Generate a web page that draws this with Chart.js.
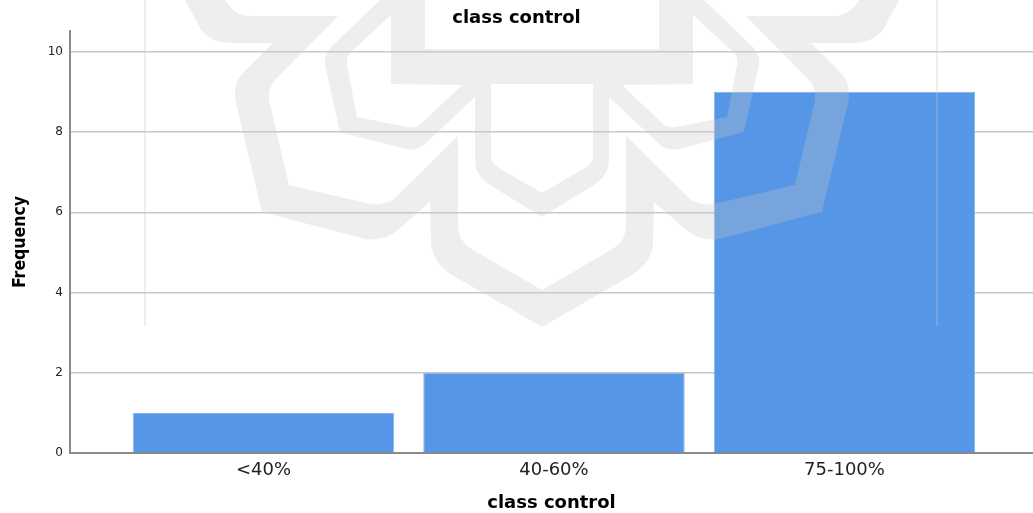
<!DOCTYPE html>
<html><head><meta charset="utf-8">
<script src="https://cdn.jsdelivr.net/npm/chart.js@4"></script>
<style>html,body{margin:0;padding:0;background:#fff}#w{width:1033px;height:513px}</style>
</head><body><div id="w"><canvas id="c" width="1033" height="513"></canvas></div>
<script>
const categories = ['<40%', '40-60%', '75-100%'];
const frequencies = [1, 2, 9];
const yTicks = [0, 2, 4, 6, 8, 10];
const chartTitle = 'class control';
const xTitle = 'class control';
const yTitle = 'Frequency';

// Background watermark: decoration only, not data
const CX = 542;
const bandA = [['M',185,0],['L',200,28],['Q',210,43,232,43],['L',273,43],['L',243,73],['Q',232,85,236,103],['L',262,212],['L',365,239],['Q',385,242,400,228],['L',430,202],['L',431,243],['Q',432,262,452,275],['L',CX,327],['L',CX,290],['L',470,248],['Q',458,240,458,225],['L',458,136],['L',395,198],['Q',385,206,370,204],['L',289,185],['L',269,100],['Q',268,88,275,80],['L',338,16],['L',250,16],['Q',235,16,225,0],['Z']];
const bandB = [['M',425,0],['L',425,49],['L',CX,49],['L',CX,84],['L',491,84],['L',491,155],['Q',491,163,499,168],['L',CX,193],['L',CX,217],['L',490,185],['Q',475,175,475,160],['L',475,97],['L',427,142],['Q',417,152,405,149],['L',340,132],['L',325,65],['Q',324,55,330,48],['L',380,0],['Z'],
 ['M',391,15],['L',391,84],['L',462,85],['L',423,122],['Q',417,129,408,127],['L',357,117],['L',347,65],['Q',346,57,351,52],['Z']];
function trace(ctx, cmds, flip){
  const X = x => flip ? 2*CX - x : x;
  for (const c of cmds){
    if (c[0]==='M') ctx.moveTo(X(c[1]),c[2]);
    else if (c[0]==='L') ctx.lineTo(X(c[1]),c[2]);
    else if (c[0]==='Q') ctx.quadraticCurveTo(X(c[1]),c[2],X(c[3]),c[4]);
    else ctx.closePath();
  }
}
const watermark = {
  id:'watermark',
  afterDatasetsDraw(chart){
    const ctx = chart.ctx;
    ctx.save();
    ctx.fillStyle = 'rgba(200,200,200,0.3)';
    for (const flip of [false,true]){
      ctx.beginPath(); trace(ctx,bandA,flip); ctx.fill();
      ctx.beginPath(); trace(ctx,bandB,flip); ctx.fill('evenodd');
    }
    ctx.fillRect(144,0,2,326);
    ctx.fillRect(936,0,2,326);
    ctx.restore();
  }
};

new Chart(document.getElementById('c'), {
  type:'bar',
  data:{datasets:[{
    data: frequencies.map((v,i)=>({x:i,y:v})),
    backgroundColor:'#5596e6',
    borderColor:'#86b6f2',
    borderWidth:1,
    barPercentage:0.9,
    categoryPercentage:1
  }]},
  plugins:[watermark],
  options:{
    responsive:false, animation:false,
    layout:{padding:0},
    plugins:{
      legend:{display:false},
      tooltip:{enabled:false},
      title:{display:true,text:chartTitle,color:'#000',
        font:{family:'DejaVu Sans',size:18,weight:'bold',lineHeight:1.2},
        padding:{top:8,bottom:1.4}}
    },
    scales:{
      x:{type:'linear',offset:false,min:-0.666,max:2.649,
        afterBuildTicks(s){s.ticks=categories.map((_,i)=>({value:i}));},
        afterFit(s){s.height=60;},
        grid:{display:false,drawTicks:false},
        border:{color:'#8a8a8a',width:2},
        ticks:{autoSkip:false,maxRotation:0,padding:7,color:'#222',
          font:{family:'DejaVu Sans',size:18},
          callback:v=>categories[v]},
        title:{display:true,text:xTitle,color:'#000',
          font:{family:'DejaVu Sans',size:18,weight:'bold'},
          padding:{top:0,bottom:-1}}
      },
      y:{min:0,max:10.52,
        afterBuildTicks(s){s.ticks=yTicks.map(v=>({value:v}));},
        afterFit(s){s.width=70;},
        grid:{color:'#c9c9c9',lineWidth:1.5,drawTicks:false},
        border:{color:'#8a8a8a',width:2},
        ticks:{padding:7,color:'#222',font:{family:'DejaVu Sans',size:12}},
        title:{display:true,text:yTitle,color:'#000',
          font:{family:'DejaVu Sans Condensed',size:17.5,weight:'bold'},
          padding:{top:10,bottom:0}}
      }
    }
  }
});
</script></body></html>
